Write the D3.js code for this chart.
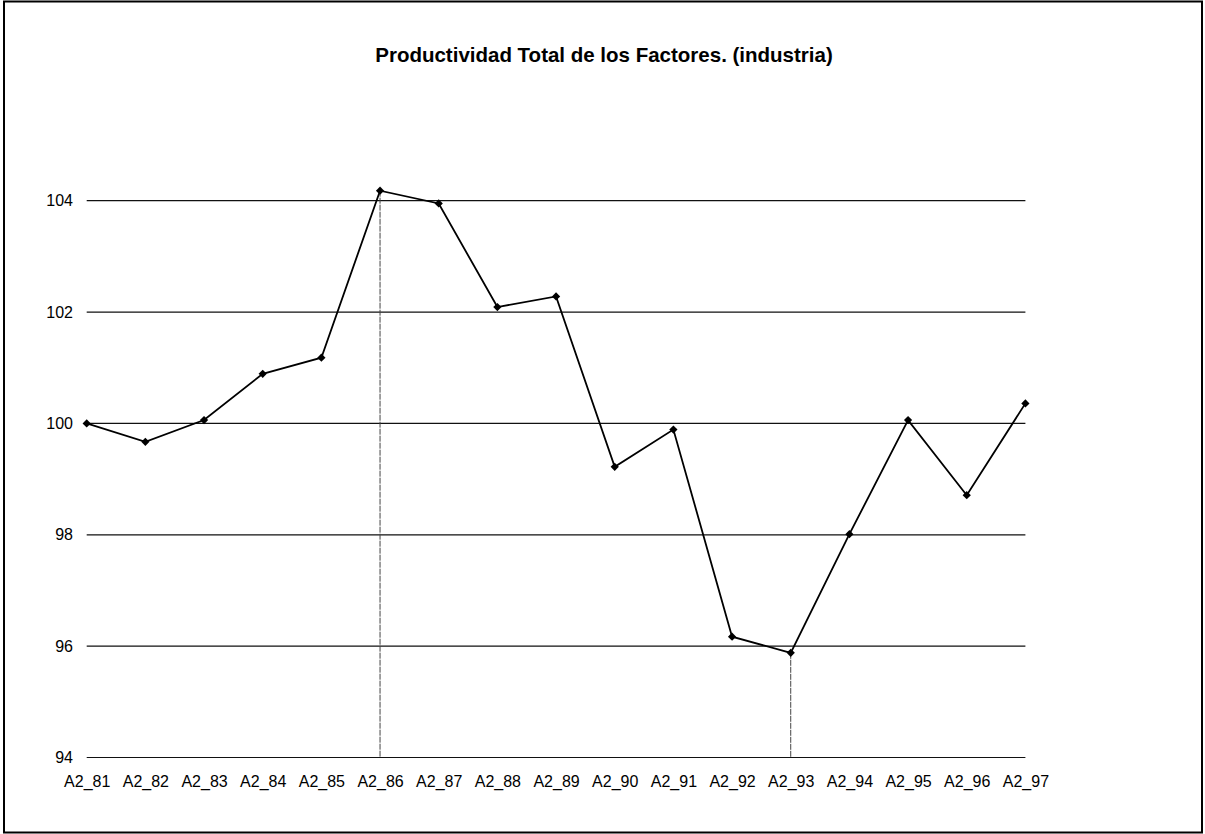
<!DOCTYPE html>
<html>
<head>
<meta charset="utf-8">
<script src="https://cdn.jsdelivr.net/npm/d3@7"></script>
<style>
  body { margin: 0; background: #fff; }
  svg { display: block; font-family: "Liberation Sans", Arial, sans-serif; }
</style>
</head>
<body>
<script>
(function () {
    'use strict';

    const width = 1205;
    const height = 834;

    const title = "Productividad Total de los Factores. (industria)";
    const years = ["A2_81", "A2_82", "A2_83", "A2_84", "A2_85", "A2_86", "A2_87", "A2_88", "A2_89",
                   "A2_90", "A2_91", "A2_92", "A2_93", "A2_94", "A2_95", "A2_96", "A2_97"];
    const values = [100.0, 99.67, 100.06, 100.89, 101.18, 104.18, 103.95, 102.09, 102.28,
                    99.22, 99.89, 96.17, 95.88, 98.01, 100.06, 98.71, 100.36];
    const yTicks = [94, 96, 98, 100, 102, 104];
    // years marked with a drop line down to the axis
    const dropYears = ["A2_86", "A2_93"];

    const svg = d3.select("body").append("svg")
        .attr("width", width)
        .attr("height", height);

    // outer frame
    svg.append("rect")
        .attr("x", 4).attr("y", 1.5)
        .attr("width", 1198).attr("height", 831)
        .attr("fill", "none")
        .attr("stroke", "#000")
        .attr("stroke-width", 2);

    svg.append("text")
        .attr("x", 604).attr("y", 62)
        .attr("text-anchor", "middle")
        .attr("font-size", 20.5)
        .attr("font-weight", "bold")
        .text(title);

    const x = d3.scalePoint()
        .domain(years)
        .range([86.7, 1025.4]);

    const y = d3.scaleLinear()
        .domain([94, 104])
        .range([757.5, 200.7]);

    // horizontal gridlines
    svg.selectAll(".grid")
        .data(yTicks)
        .enter().append("line")
        .attr("class", "grid")
        .attr("x1", x(years[0]))
        .attr("x2", x(years[years.length - 1]))
        .attr("y1", d => y(d))
        .attr("y2", d => y(d))
        .attr("stroke", "#111")
        .attr("stroke-width", 1.2);

    // y axis labels
    const yAxis = d3.axisLeft(y)
        .tickValues(yTicks)
        .tickSize(0)
        .tickPadding(0);
    const gy = svg.append("g")
        .attr("transform", "translate(73,0)")
        .call(yAxis);
    gy.select(".domain").remove();
    gy.selectAll("text")
        .attr("font-size", 16)
        .attr("font-family", "Liberation Sans, Arial, sans-serif")
        .attr("fill", "#000");

    // x axis labels
    const xAxis = d3.axisBottom(x).tickSize(0).tickPadding(0);
    const gx = svg.append("g")
        .attr("transform", "translate(0,776)")
        .call(xAxis);
    gx.select(".domain").remove();
    gx.selectAll("text")
        .attr("font-size", 16)
        .attr("font-family", "Liberation Sans, Arial, sans-serif")
        .attr("fill", "#000");

    const points = years.map((d, i) => ({year: d, value: values[i]}));

    // drop lines
    svg.selectAll(".drop")
        .data(points.filter(d => dropYears.includes(d.year)))
        .enter().append("line")
        .attr("class", "drop")
        .attr("x1", d => x(d.year))
        .attr("x2", d => x(d.year))
        .attr("y1", d => y(d.value))
        .attr("y2", y(94))
        .attr("stroke", "#444")
        .attr("stroke-width", 1)
        .attr("stroke-dasharray", "6,1");

    const line = d3.line()
        .x(d => x(d.year))
        .y(d => y(d.value));

    svg.append("path")
        .datum(points)
        .attr("d", line)
        .attr("fill", "none")
        .attr("stroke", "#000")
        .attr("stroke-width", 1.8);

    svg.selectAll(".marker")
        .data(points)
        .enter().append("path")
        .attr("class", "marker")
        .attr("d", d3.symbol().type(d3.symbolSquare).size(34))
        .attr("transform", d => `translate(${x(d.year)},${y(d.value)}) rotate(45)`)
        .attr("fill", "#000");
}());
</script>
</body>
</html>
